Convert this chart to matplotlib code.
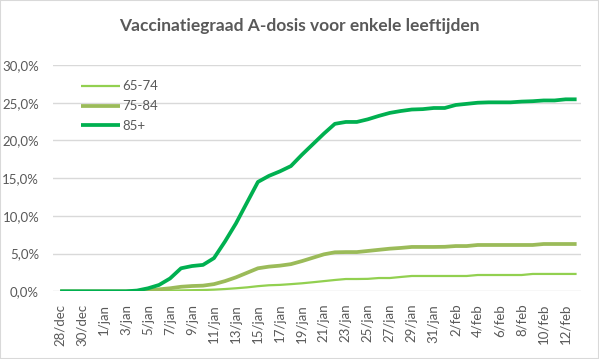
import numpy as np
import pandas as pd
import matplotlib
matplotlib.use("Agg")
import matplotlib.pyplot as plt
from matplotlib.patches import Rectangle

# dagen 28/dec t/m 13/feb
dates = pd.date_range("2020-12-28", "2021-02-13", freq="D")
months_nl = {12: "dec", 1: "jan", 2: "feb"}
day_labels = ["%d/%s" % (d.day, months_nl[d.month]) for d in dates]

# vaccinatiegraad in %
age_65_74 = [0, 0, 0, 0, 0, 0, 0, 0, 0.02, 0.05, 0.08, 0.12, 0.15, 0.17, 0.22, 0.30,
             0.40, 0.52, 0.68, 0.80, 0.85, 0.95, 1.06, 1.20, 1.35, 1.50, 1.63, 1.63,
             1.65, 1.76, 1.76, 1.90, 2.03, 2.03, 2.03, 2.03, 2.03, 2.03, 2.16, 2.16,
             2.16, 2.16, 2.16, 2.30, 2.30, 2.30, 2.30, 2.30]
age_75_84 = [0, 0, 0, 0, 0, 0, 0, 0, 0.15, 0.26, 0.40, 0.60, 0.70, 0.75, 0.95, 1.35,
             1.85, 2.45, 3.05, 3.27, 3.40, 3.60, 4.00, 4.45, 4.90, 5.17, 5.20, 5.20,
             5.35, 5.50, 5.65, 5.75, 5.88, 5.88, 5.88, 5.90, 6.00, 6.00, 6.14, 6.14,
             6.14, 6.14, 6.14, 6.14, 6.27, 6.27, 6.27, 6.27]
age_85plus = [0, 0, 0, 0, 0, 0, 0, 0.10, 0.40, 0.84, 1.70, 3.05, 3.35, 3.50, 4.40, 6.60,
              9.00, 11.75, 14.50, 15.30, 15.90, 16.60, 18.10, 19.50, 20.90, 22.20, 22.45, 22.45,
              22.80, 23.25, 23.65, 23.90, 24.10, 24.15, 24.30, 24.30, 24.70, 24.85, 25.00, 25.05,
              25.05, 25.05, 25.15, 25.20, 25.30, 25.30, 25.45, 25.45]

series_names = ["65-74", "75-84", "85+"]
yticks = [0, 5, 10, 15, 20, 25, 30]

plt.rcParams['font.family'] = ['Lato', 'DejaVu Sans']
grey = "#595959"

fig = plt.figure(figsize=(5.99, 3.59), dpi=100)
ax = fig.add_axes([53/599, 1-291.3/359, (581-53)/599, (291.3-65)/359])

x = np.arange(len(dates))
ax.plot(x, age_65_74, color="#92D050", lw=1.6, label=series_names[0], solid_capstyle="butt")
ax.plot(x, age_75_84, color="#9BBB59", lw=2.7, label=series_names[1], solid_capstyle="butt")
ax.plot(x, age_85plus, color="#00B050", lw=2.7, label=series_names[2], solid_capstyle="butt")

ax.set_xlim(-0.65, len(dates) - 0.6)
ax.set_ylim(0, 30)
ax.set_yticks(yticks)
ax.yaxis.set_major_formatter(plt.FuncFormatter(lambda v, p: ("%.1f%%" % v).replace(".", ",")))
ax.set_xticks(x[::2])
ax.set_xticklabels(day_labels[::2], rotation=90)

ax.grid(axis="y", color="#D9D9D9", lw=1)
ax.set_axisbelow(True)
for s in ax.spines.values():
    s.set_visible(False)
ax.tick_params(axis="both", length=0, colors=grey, labelsize=9.5)
ax.tick_params(axis="y", pad=10)
ax.tick_params(axis="x", pad=9)

leg = ax.legend(loc="upper left", bbox_to_anchor=(0.03, 0.985), frameon=False,
                fontsize=9.5, handlelength=3.0, handletextpad=0.15, labelspacing=0.6)
for t in leg.get_texts():
    t.set_color(grey)

fig.text(0.5, 1-26/359, "Vaccinatiegraad A-dosis voor enkele leeftijden",
         ha="center", va="center", fontsize=12.5, fontweight="bold", color=grey)

fig.patches.append(Rectangle((0, 0), 1, 1, transform=fig.transFigure, fill=False,
                             edgecolor="#D9D9D9", lw=1.5))

fig.savefig("out.png", dpi=100)
